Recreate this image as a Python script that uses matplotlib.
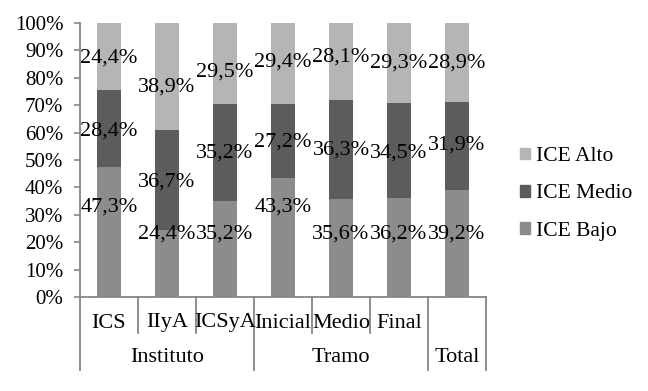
import matplotlib
matplotlib.use("Agg")
import matplotlib.pyplot as plt
import matplotlib.transforms as mtransforms
from matplotlib.patches import Patch

plt.rcParams['font.family'] = ['Liberation Serif', 'DejaVu Serif']

categories = ["ICS", "IIyA", "ICSyA", "Inicial", "Medio", "Final", ""]
groups = ["Instituto", "Tramo", "Total"]
group_sizes = [3, 3, 1]
bajo = [47.3, 24.4, 35.2, 43.3, 35.6, 36.2, 39.2]
medio = [28.4, 36.7, 35.2, 27.2, 36.3, 34.5, 31.9]
alto = [24.4, 38.9, 29.5, 29.4, 28.1, 29.3, 28.9]
series_names = ["ICE Bajo", "ICE Medio", "ICE Alto"]
yticks = [0, 10, 20, 30, 40, 50, 60, 70, 80, 90, 100]

# label heights (percent)
bajo_label_y = [33, 23, 23, 33, 23, 23, 23]
medio_label_y = [60.5, 41.8, 52.5, 56.6, 53.6, 52.5, 55.5]
alto_label_y = [87.2, 76.6, 82.0, 85.8, 87.6, 85.4, 85.4]

colors = ["#8c8c8c", "#5c5c5c", "#b5b5b5"]
spine_c = "#868686"

fig = plt.figure(figsize=(6.48, 3.91), dpi=100)
ax = fig.add_axes([80/648, 1-297/391, (486-80)/648, (297-23)/391])

x = list(range(len(categories)))
w = 0.4
ax.bar(x, bajo, w, color=colors[0], zorder=2)
ax.bar(x, medio, w, bottom=bajo, color=colors[1], zorder=2)
bott3 = [a + b for a, b in zip(bajo, medio)]
ax.bar(x, alto, w, bottom=bott3, color=colors[2], zorder=2)

def fmt(v):
    return f"{v:.1f}%".replace(".", ",")

for vals, ys in ((bajo, bajo_label_y), (medio, medio_label_y), (alto, alto_label_y)):
    for xi, v, yy in zip(x, vals, ys):
        ax.text(xi, yy, fmt(v), ha="center", va="center", fontsize=16, color="black", zorder=3)

ax.set_xlim(-0.5, len(categories) - 0.5)
ax.set_ylim(0, 100)
ax.set_yticks(yticks)
ax.set_yticklabels([f"{t}%" for t in yticks], fontsize=15)
ax.tick_params(axis="y", length=4, color=spine_c, width=1.2, pad=8)
ax.set_xticks([])
for s in ["top", "right"]:
    ax.spines[s].set_visible(False)
for s in ["left", "bottom"]:
    ax.spines[s].set_color(spine_c)
    ax.spines[s].set_linewidth(1.3)

trans = mtransforms.blended_transform_factory(ax.transData, ax.transAxes)
ax_h = 274.0
short_y = -(333 - 297) / ax_h
long_y = -(370 - 297) / ax_h
sub_y = -(323 - 297) / ax_h
grp_y = -(358 - 297) / ax_h

bounds = [-0.5]
acc = -0.5
for gs in group_sizes:
    acc += gs
    bounds.append(acc)
for i in range(len(categories) + 1):
    xb = i - 0.5
    ybot = long_y if xb in bounds else short_y
    ax.plot([xb, xb], [0, ybot], transform=trans, color=spine_c, lw=1.3, clip_on=False)

for xi, c in zip(x, categories):
    if c:
        ax.text(xi, sub_y, c, transform=trans, ha="center", va="center", fontsize=16)

start = -0.5
for g, gs in zip(groups, group_sizes):
    ax.text(start + gs / 2, grp_y, g, transform=trans, ha="center", va="center", fontsize=16)
    start += gs

handles = [Patch(color=colors[2]), Patch(color=colors[1]), Patch(color=colors[0])]
fig.legend(handles, ["ICE Alto", "ICE Medio", "ICE Bajo"], loc="center left",
           bbox_to_anchor=(520/648, 1-194/391), frameon=False, fontsize=15.5,
           handlelength=0.47, handleheight=0.47, handletextpad=0.25, labelspacing=0.85,
           borderpad=0, borderaxespad=0)

fig.savefig("out.png", dpi=100)
